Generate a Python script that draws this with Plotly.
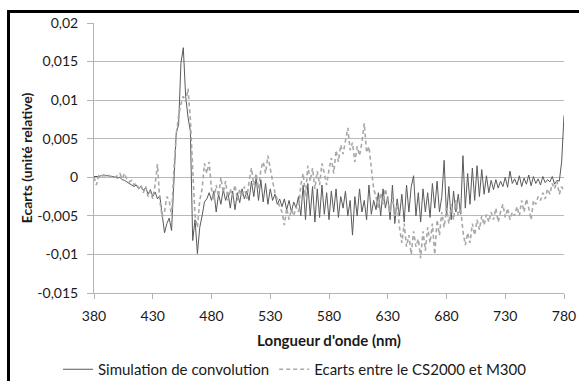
import plotly.graph_objects as go

wavelength = list(range(380, 781, 2))

simulation = [
    0.0001, 0.0001, 0.0001, 0.0002, 0.0002, 0.0002, 0.0002, 0.0001, 0.0001, 0.0000,
    -0.0001, 0.0000, -0.0003, -0.0004, -0.0006, -0.0007, -0.0009, -0.0012, -0.0010, -0.0015,
    -0.0012, -0.0017, -0.0013, -0.0022, -0.0016, -0.0025, -0.0019, -0.0028, -0.0024, -0.0045,
    -0.0072, -0.0060, -0.0053, -0.0069, 0.0005, 0.0058, 0.0068, 0.0148, 0.0168, 0.0105,
    0.0078, 0.0060, -0.0082, -0.0055, -0.0099, -0.0065, -0.0050, -0.0032, -0.0028, -0.0020,
    -0.0030, -0.0018, -0.0045, -0.0022, -0.0035, -0.0016, -0.0030, -0.0020, -0.0040, -0.0018,
    -0.0042, -0.0020, -0.0033, -0.0015, -0.0028, -0.0018, -0.0030, -0.0005, -0.0025, 0.0000,
    -0.0030, -0.0003, -0.0032, -0.0008, -0.0035, -0.0015, -0.0030, -0.0022, -0.0035, -0.0028,
    -0.0038, -0.0028, -0.0042, -0.0030, -0.0045, -0.0032, -0.0040, -0.0025, -0.0050, -0.0010,
    -0.0055, -0.0008, -0.0050, -0.0012, -0.0058, -0.0015, -0.0052, -0.0010, -0.0048, -0.0020,
    -0.0055, -0.0018, -0.0045, -0.0015, -0.0052, -0.0025, -0.0040, -0.0018, -0.0050, -0.0030,
    -0.0075, -0.0025, -0.0050, -0.0015, -0.0045, -0.0030, -0.0055, -0.0010, -0.0048, -0.0030,
    -0.0042, -0.0020, -0.0050, -0.0015, -0.0040, -0.0025, -0.0055, -0.0010, -0.0060, -0.0028,
    -0.0050, -0.0022, -0.0058, -0.0010, -0.0045, -0.0012, 0.0002, -0.0050, -0.0020, -0.0058,
    -0.0015, -0.0045, -0.0020, -0.0052, -0.0008, -0.0040, -0.0005, -0.0045, -0.0025, 0.0022,
    -0.0050, -0.0012, -0.0055, -0.0018, -0.0045, -0.0022, -0.0048, 0.0028, -0.0040, 0.0005,
    -0.0035, 0.0012, -0.0030, 0.0015, -0.0025, 0.0010, -0.0022, 0.0002, -0.0020, -0.0004,
    -0.0016, -0.0003, -0.0014, -0.0005, -0.0012, 0.0000, -0.0013, 0.0008, -0.0008, -0.0002,
    -0.0010, 0.0002, -0.0012, -0.0001, -0.0009, 0.0003, -0.0011, 0.0001, -0.0008, -0.0002,
    -0.0010, 0.0001, -0.0007, -0.0003, -0.0006, 0.0001, -0.0009, -0.0004, -0.0005, 0.0020,
    0.0080,
]

ecarts = [
    0.0000, -0.0010, 0.0002, 0.0001, 0.0003, 0.0002, 0.0003, 0.0001, 0.0002, 0.0000,
    0.0002, 0.0005, -0.0002, 0.0005, -0.0003, -0.0006, -0.0004, -0.0010, -0.0008, -0.0014,
    -0.0010, -0.0020, -0.0012, -0.0025, -0.0018, -0.0028, -0.0010, 0.0017, -0.0030, -0.0052,
    -0.0045, -0.0025, -0.0030, -0.0050, 0.0010, 0.0055, 0.0080, 0.0095, 0.0105, 0.0098,
    0.0115, 0.0075, 0.0010, -0.0050, -0.0065, -0.0030, -0.0015, 0.0018, 0.0005, 0.0020,
    -0.0015, -0.0030, -0.0010, -0.0025, 0.0000, -0.0020, -0.0005, -0.0030, -0.0015, -0.0025,
    -0.0010, -0.0030, -0.0015, -0.0025, -0.0012, -0.0028, -0.0005, 0.0012, -0.0010, 0.0005,
    -0.0015, 0.0010, 0.0020, 0.0005, 0.0028, 0.0010, -0.0005, -0.0020, -0.0030, -0.0038,
    -0.0045, -0.0062, -0.0040, -0.0055, -0.0042, -0.0050, -0.0038, -0.0045, -0.0010, 0.0005,
    -0.0025, 0.0015, -0.0005, 0.0012, -0.0015, 0.0008, -0.0010, 0.0018, 0.0005, -0.0010,
    0.0010, 0.0025, 0.0005, 0.0035, 0.0020, 0.0042, 0.0030, 0.0050, 0.0064, 0.0035,
    0.0045, 0.0020, 0.0040, 0.0028, 0.0045, 0.0070, 0.0032, 0.0040, 0.0012, -0.0015,
    -0.0025, -0.0040, -0.0020, -0.0035, -0.0015, -0.0030, -0.0045, -0.0025, -0.0050, -0.0035,
    -0.0065, -0.0085, -0.0060, -0.0090, -0.0075, -0.0100, -0.0070, -0.0090, -0.0080, -0.0105,
    -0.0070, -0.0095, -0.0065, -0.0085, -0.0060, -0.0100, -0.0055, -0.0075, -0.0045, -0.0065,
    -0.0040, -0.0060, -0.0035, -0.0055, -0.0030, -0.0050, -0.0040, -0.0070, -0.0088, -0.0072,
    -0.0085, -0.0060, -0.0075, -0.0055, -0.0068, -0.0050, -0.0062, -0.0048, -0.0058, -0.0045,
    -0.0055, -0.0040, -0.0058, -0.0045, -0.0035, -0.0052, -0.0040, -0.0055, -0.0045, -0.0050,
    -0.0038, -0.0050, -0.0030, -0.0045, -0.0028, -0.0040, -0.0055, -0.0030, -0.0035, -0.0025,
    -0.0030, -0.0020, -0.0028, -0.0015, -0.0022, -0.0008, -0.0015, -0.0005, -0.0022, -0.0012,
    -0.0018,
]

assert len(simulation) == len(wavelength) == len(ecarts)

x_tickvals = [380, 430, 480, 530, 580, 630, 680, 730, 780]
y_tickvals = [0.02, 0.015, 0.01, 0.005, 0, -0.005, -0.01, -0.015]
y_ticktext = ["0,02", "0,015", "0,01", "0,005", "0", "-0,005", "-0,01", "-0,015"]

series_names = ["Simulation de convolution", "Ecarts entre le CS2000 et M300"]

W, H = 579, 381
ML, MR, MT, MB = 94, 15, 23, 88
PW, PH = W - ML - MR, H - MT - MB

def px_x(px):
    return (px - ML) / PW

def px_y(py):
    return 1 - (py - MT) / PH

fig = go.Figure()
fig.add_trace(go.Scatter(
    x=wavelength, y=simulation, mode="lines", name=series_names[0],
    line=dict(color="#5a5a5a", width=1),
))
fig.add_trace(go.Scatter(
    x=wavelength, y=ecarts, mode="lines", name=series_names[1],
    line=dict(color="#a8a8a8", width=1.6, dash="4px,3px"),
))

font_family = "Lato"
fig.update_layout(
    width=W, height=H,
    margin=dict(l=ML, r=MR, t=MT, b=MB, pad=0, autoexpand=False),
    paper_bgcolor="white", plot_bgcolor="white",
    font=dict(family=font_family, size=14, color="#1a1a1a"),
    showlegend=True,
    legend=dict(
        orientation="h", xref="container", yref="container",
        x=58 / W, xanchor="left", y=1 - 353 / H, yanchor="top",
        font=dict(family=font_family, size=15, color="#1a1a1a"),
        itemwidth=30, tracegroupgap=0, bgcolor="rgba(0,0,0,0)",
    ),
    xaxis=dict(
        range=[380, 780], tickvals=x_tickvals, ticktext=[str(v) for v in x_tickvals],
        showgrid=False, zeroline=False,
        showline=True, linecolor="#b3b3b3", linewidth=1,
        ticks="outside", ticklen=5, tickcolor="#b3b3b3",
        ticklabelstandoff=5,
        title=dict(text="Longueur d'onde (nm)", font=dict(family=font_family, size=15, weight="bold"), standoff=12),
    ),
    yaxis=dict(
        range=[-0.015, 0.02], tickvals=y_tickvals, ticktext=y_ticktext,
        showgrid=True, gridcolor="#b8b8b8", gridwidth=1, zeroline=False,
        showline=True, linecolor="#b3b3b3", linewidth=1,
        ticks="outside", ticklen=6, tickcolor="#b3b3b3",
        ticklabelstandoff=6,
        title=dict(text="Ecarts (unité relative)", font=dict(family=font_family, size=14, weight="bold"), standoff=1),
    ),
    shapes=[
        dict(type="line", xref="paper", yref="paper",
             x0=px_x(7), x1=px_x(W + 5), y0=px_y(11.5), y1=px_y(11.5),
             line=dict(color="black", width=3)),
        dict(type="line", xref="paper", yref="paper",
             x0=px_x(8.5), x1=px_x(8.5), y0=px_y(10), y1=px_y(H + 5),
             line=dict(color="black", width=3)),
    ],
)

fig.write_html("out.html")
